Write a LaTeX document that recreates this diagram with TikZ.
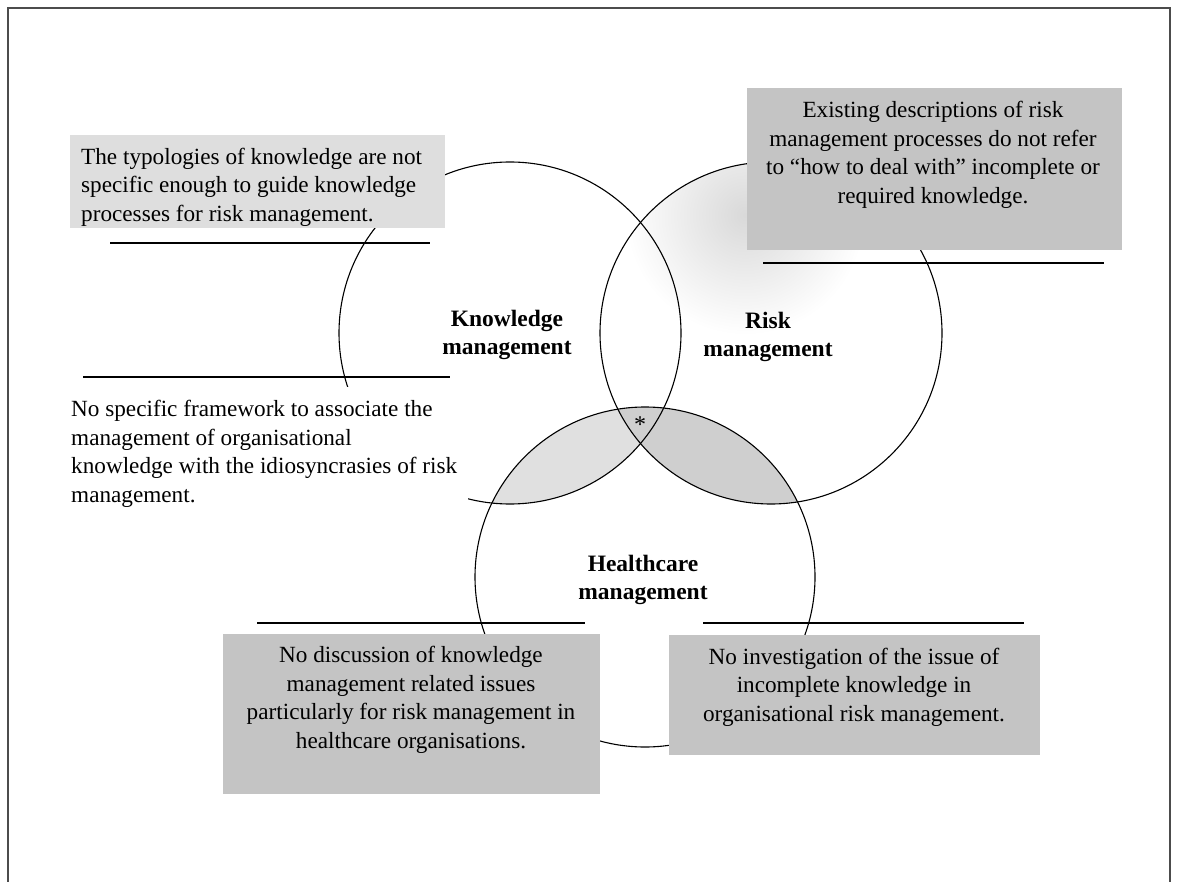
\documentclass[tikz,border=0pt]{standalone}
\usepackage{fontspec}
\setmainfont{Liberation Serif}
\begin{document}
\begin{tikzpicture}[x=1pt,y=-1pt,
  ring/.style={draw=black, line width=1.1pt},
  rule/.style={draw=black, line width=1.2pt},
  frameline/.style={draw=black!70, line width=2.6pt},
  notefill/.style={fill=black!23},
  lightfill/.style={fill=black!13},
  notetext/.style={font=\fontsize{23.2}{28.5}\selectfont, inner sep=0pt},
  circlabel/.style={font=\fontsize{23.5}{28}\selectfont\bfseries, align=center, inner sep=0pt}]
\useasboundingbox (0,0) rectangle (1178,882);
\fill[white] (0,0) rectangle (1178,882);

% centres of the three management areas
\coordinate (K) at (510,333);
\coordinate (R) at (771,333);
\coordinate (H) at (645,577);

% soft grey haze in the upper part of the risk circle
\begin{scope}
  \clip (R) circle (171);
  \shade[inner color=black!15, outer color=white] (745,215) circle (120);
\end{scope}

% shaded overlaps with healthcare management
\begin{scope}
  \clip (H) circle (170);
  \fill[black!12] (K) circle (171);
  \fill[black!19] (R) circle (171);
\end{scope}

% the three circles
\draw[ring] (K) circle (171);
\draw[ring] (R) circle (171);
\draw[ring] (H) circle (170);

% horizontal rules
\draw[rule] (110,243) -- (430,243);
\draw[rule] (83,377) -- (450,377);
\draw[rule] (763,263) -- (1104,263);
\draw[rule] (257,623) -- (585,623);
\draw[rule] (703,623) -- (1024,623);

% note boxes
\fill[lightfill] (70,135) rectangle (445,228);
\fill[notefill] (747,88) rectangle (1122,250);
\fill[white] (66,387) rectangle (468,505);
\fill[notefill] (223,634) rectangle (600,794);
\fill[notefill] (669,635) rectangle (1040,755);

\node[notetext, align=left, anchor=west] (n1) at (81,187)
  {The typologies of knowledge are not\\specific enough to guide knowledge\\processes for risk management.};
\node[notetext, align=center] (n2) at (933,155)
  {Existing descriptions of risk\\management processes do not refer\\to “how to deal with” incomplete or\\required knowledge.};
\node[notetext, align=left, anchor=west] (n3) at (71,454)
  {No specific framework to associate the\\management of organisational\\knowledge with the idiosyncrasies of risk\\management.};
\node[notetext, align=center] (n4) at (411,700)
  {No discussion of knowledge\\management related issues\\particularly for risk management in\\healthcare organisations.};
\node[notetext, align=center] (n5) at (854,687)
  {No investigation of the issue of\\incomplete knowledge in\\organisational risk management.};

% circle labels
\node[circlabel] (lk) at (507,335) {Knowledge\\management};
\node[circlabel] (lr) at (768,337) {Risk\\management};
\node[circlabel] (lh) at (643,580) {Healthcare\\management};
\node[font=\fontsize{24}{24}\selectfont, inner sep=0pt] (star) at (640,425) {*};

% page frame
\draw[frameline] (8,882) -- (8,8) -- (1170,8) -- (1170,882);
\end{tikzpicture}
\end{document}
